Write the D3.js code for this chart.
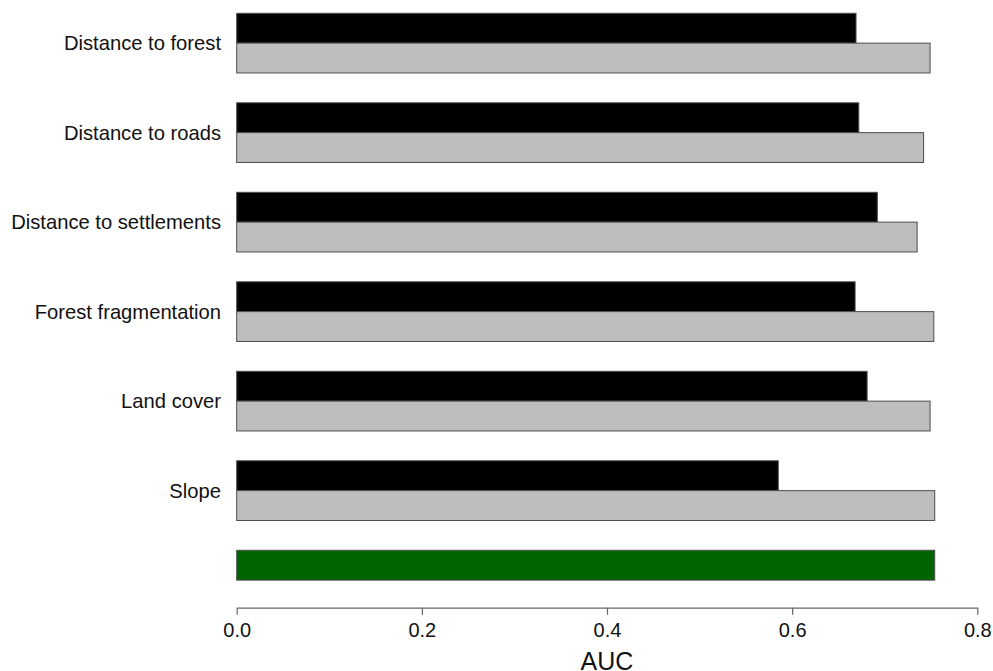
<!DOCTYPE html>
<html>
<head>
<meta charset="utf-8">
<script src="https://cdn.jsdelivr.net/npm/d3@7"></script>
<style>
  html, body { margin: 0; padding: 0; background: #fff; }
  svg { display: block; font-family: Arial, "Liberation Sans", sans-serif; }
</style>
</head>
<body>
<svg id="chart" width="993" height="671"></svg>
<script>
// ---- data ----
const categories = ["Distance to forest", "Distance to roads", "Distance to settlements",
                    "Forest fragmentation", "Land cover", "Slope"];
const aucOnly    = [0.669, 0.672, 0.692, 0.668, 0.681, 0.585];   // black bars
const aucWithout = [0.749, 0.742, 0.735, 0.753, 0.749, 0.754];   // gray bars
const fullModelLabel = "Full model";
const fullModelAUC = [0.754];                                     // green bar
const xTicks = [0.0, 0.2, 0.4, 0.6, 0.8];
const xTitle = "AUC";

// ---- layout ----
const svg = d3.select("#chart");
const x0 = 236.7, x1 = 977.3;
const x = d3.scaleLinear().domain([0, 0.8]).range([x0, x1]);

const groups = categories.concat([fullModelLabel]);
const y = d3.scaleBand().domain(groups).range([13.3, 13.3 + 89.5 * (6 + 2/3)])
  .paddingInner(1/3).paddingOuter(0);
const sub = d3.scaleBand().domain(["only", "without"]).range([0, y.bandwidth()]).padding(0);

const stroke = "#4d4d4d";

const rows = categories.map((c, i) => ({ cat: c, only: aucOnly[i], without: aucWithout[i] }));

// black bars
svg.append("g").selectAll("rect").data(rows).join("rect")
  .attr("x", x(0))
  .attr("y", d => y(d.cat) + sub("only"))
  .attr("width", d => x(d.only) - x(0))
  .attr("height", sub.bandwidth())
  .attr("fill", "#000000")
  .attr("stroke", stroke).attr("stroke-width", 1);

// gray bars
svg.append("g").selectAll("rect").data(rows).join("rect")
  .attr("x", x(0))
  .attr("y", d => y(d.cat) + sub("without"))
  .attr("width", d => x(d.without) - x(0))
  .attr("height", sub.bandwidth())
  .attr("fill", "#bebebe")
  .attr("stroke", stroke).attr("stroke-width", 1);

// green full-model bar
svg.append("g").selectAll("rect").data(fullModelAUC).join("rect")
  .attr("x", x(0))
  .attr("y", y(fullModelLabel) + sub("only"))
  .attr("width", d => x(d) - x(0))
  .attr("height", sub.bandwidth())
  .attr("fill", "#006400")
  .attr("stroke", stroke).attr("stroke-width", 1);

// category labels
svg.append("g").selectAll("text").data(categories).join("text")
  .attr("x", 221)
  .attr("y", d => y(d) + sub("without") + 7.3)
  .attr("text-anchor", "end")
  .attr("font-size", 20.2)
  .attr("fill", "#111")
  .text(d => d);

// x axis
const axisY = 607.7;
const axis = d3.axisBottom(x).tickValues(xTicks).tickFormat(d3.format(".1f")).tickSize(7).tickSizeOuter(0);
const gx = svg.append("g").attr("transform", `translate(0,${axisY})`).call(axis);
gx.select(".domain").attr("stroke", "#666").attr("stroke-width", 1.2);
gx.selectAll(".tick line").attr("stroke", "#666").attr("stroke-width", 1.2);
gx.selectAll(".tick text")
  .attr("font-size", 20)
  .attr("font-family", "Arial, 'Liberation Sans', sans-serif")
  .attr("fill", "#111")
  .attr("dy", null)
  .attr("y", 29.6);

// axis title
svg.append("text")
  .attr("x", (x0 + x1) / 2)
  .attr("y", 670)
  .attr("text-anchor", "middle")
  .attr("font-size", 25)
  .attr("fill", "#111")
  .text(xTitle);
</script>
</body>
</html>
